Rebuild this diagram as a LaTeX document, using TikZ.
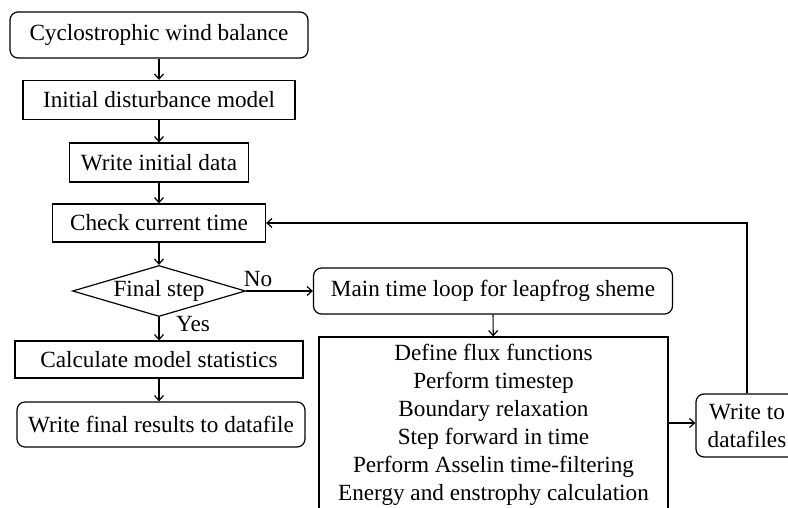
\documentclass[tikz,border=0pt]{standalone}
\usepackage{fontspec}
\setmainfont{Liberation Serif}
\usepackage{tikz}
\usetikzlibrary{arrows.meta}
\usetikzlibrary{shapes.geometric}

\begin{document}
\begin{tikzpicture}[x=1pt,y=-1pt,
    font=\fontsize{23.2}{28}\selectfont,
    >={Straight Barb[length=5pt,width=9pt]},
    blk/.style={draw,line width=1.2pt,inner sep=0pt},
    rblk/.style={blk,rounded corners=8pt},
    flow/.style={->,line width=1.2pt}]
    \path[use as bounding box,clip] (0,0) rectangle (788,508);

    \node[rblk,minimum width=298,minimum height=46] (cyclo) at (159,35) {Cyclostrophic wind balance};
    \node[blk,minimum width=272,minimum height=39] (initdist) at (159,100) {Initial disturbance model};
    \node[blk,minimum width=179,minimum height=39] (writeinit) at (159,162.5) {Write initial data};
    \node[blk,minimum width=213,minimum height=38] (check) at (159,223) {Check current time};
    \node[blk,diamond,aspect=3.4,minimum width=173,minimum height=51] (final) at (159,291) {Final step};
    \node[blk,minimum width=288,minimum height=37] (calc) at (159,359.5) {Calculate model statistics};
    \node[rblk,minimum width=288,minimum height=45] (writefinal) at (161,424.5) {Write final results to datafile};

    \node[rblk,minimum width=359,minimum height=46] (mainloop) at (493,291) {Main time loop for leapfrog sheme};
    \node[blk,minimum width=349,minimum height=176,align=center] (steps) at (493.5,425)
      {Define flux functions\\Perform timestep\\Boundary relaxation\\Step forward in time\\
       Perform Asselin time-filtering\\Energy and enstrophy calculation};
    \node[rblk,minimum width=102,minimum height=63,align=center] (writeto) at (747,425.5) {Write to\\datafiles};

    \node (no) at (258,279) {No};
    \node (yes) at (193,324) {Yes};

    \draw[flow] (cyclo) -- (initdist);
    \draw[flow] (initdist) -- (writeinit);
    \draw[flow] (writeinit) -- (check);
    \draw[flow] (check) -- (final);
    \draw[flow] (final) -- (calc);
    \draw[flow] (calc.south) -- (calc.south |- writefinal.north);
    \draw[flow] (final.east) -- (mainloop.west);
    \draw[flow] (mainloop) -- (steps);
    \draw[flow] (steps.east |- 0,423) -- (writeto.west |- 0,423);
    \draw[flow] (writeto.north) |- (check.east);
\end{tikzpicture}
\end{document}
